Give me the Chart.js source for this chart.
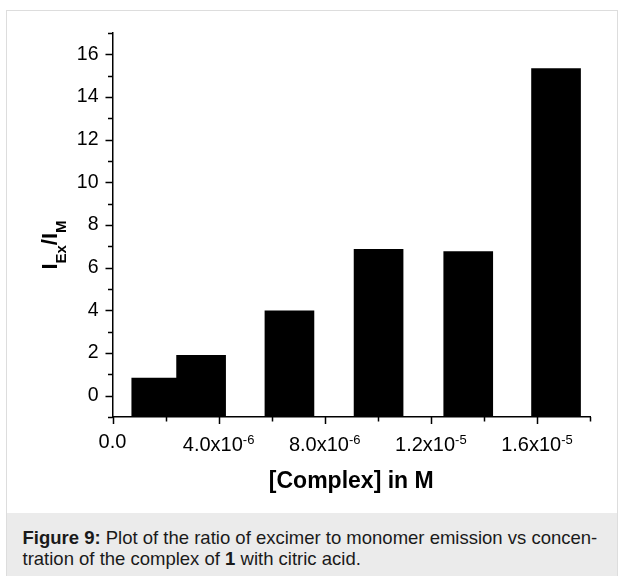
<!DOCTYPE html>
<html>
<head>
<meta charset="utf-8">
<title>Excimer / monomer ratio</title>
<script src="https://cdn.jsdelivr.net/npm/chart.js@4.4.0/dist/chart.umd.min.js"></script>
<style>
  body {
    margin: 0;
    width: 619px;
    height: 576px;
    overflow: hidden;
    position: relative;
    background: #fff;
    font-family: 'Liberation Sans', Arial, sans-serif;
  }
  #frame {
    position: absolute;
    left: 6px;
    top: 10px;
    width: 612px;
    height: 600px;
    box-sizing: border-box;
    border: 1.5px solid #dddddd;
  }
  #chart {
    position: absolute;
    left: 0;
    top: 0;
  }
  #caption {
    position: absolute;
    left: 7px;
    top: 513px;
    width: 610px;
    height: 63px;
    box-sizing: border-box;
    padding: 14px 0 0 15.5px;
    background: #ebebeb;
    color: #1a1a1a;
    font-size: 18.5px;
    line-height: 21px;
    white-space: nowrap;
  }
</style>
</head>
<body>
<div id="frame"></div>
<canvas id="chart" width="619" height="513"></canvas>
<div id="caption"><b>Figure 9:</b> Plot of the ratio of excimer to monomer emission vs concen-<br>tration of the complex of <b>1</b> with citric acid.</div>

<script>
// complex concentration (M) and excimer/monomer intensity ratio
const concentrations = [1.65e-6, 3.34e-6, 6.67e-6, 1.003e-5, 1.341e-5, 1.672e-5];
const ratios = [0.83, 1.89, 3.98, 6.86, 6.75, 15.33];

// x tick labels, drawn as mantissa x 10^exponent
const xTickValues = [0, 4e-6, 8e-6, 1.2e-5, 1.6e-5];
const xTickMantissas = ['0.0', '4.0', '8.0', '1.2', '1.6'];
const xTickExponents = ['', '-6', '-6', '-5', '-5'];

const FONT = "'Liberation Sans', Arial, sans-serif";
Chart.defaults.font.family = FONT;
Chart.defaults.color = '#000';

// tick marks (major + minor), superscript x labels and the I_Ex/I_M title
const axisDecor = {
  id: 'axisDecor',
  afterDraw(chart) {
    const ctx = chart.ctx;
    const xs = chart.scales.x;
    const ys = chart.scales.y;
    const area = chart.chartArea;

    ctx.save();
    ctx.strokeStyle = '#000';
    ctx.lineWidth = 1.5;
    ctx.beginPath();
    for (let i = 0; i <= 9; i++) {
      const v = i * 2e-6;
      const px = Math.round(xs.getPixelForValue(v)) + 0.5;
      const len = i % 2 === 0 ? 7 : 4.5;
      ctx.moveTo(px, area.bottom);
      ctx.lineTo(px, area.bottom + len);
    }
    for (let v = ys.min; v <= ys.max; v++) {
      const py = Math.round(ys.getPixelForValue(v)) + 0.5;
      const len = v % 2 === 0 ? 7 : 4.5;
      ctx.moveTo(area.left, py);
      ctx.lineTo(area.left - len, py);
    }
    ctx.stroke();

    // x labels with raised exponents
    ctx.fillStyle = '#000';
    ctx.textAlign = 'left';
    ctx.textBaseline = 'alphabetic';
    const mainFont = '20px ' + FONT;
    const supFont = '13px ' + FONT;
    xTickValues.forEach((v, i) => {
      const main = xTickExponents[i] ? xTickMantissas[i] + 'x10' : xTickMantissas[i];
      const sup = xTickExponents[i];
      ctx.font = mainFont;
      const w1 = ctx.measureText(main).width;
      ctx.font = supFont;
      const w2 = sup ? ctx.measureText(sup).width : 0;
      const start = xs.getPixelForValue(v) - (w1 + w2) / 2;
      const base = sup ? 451 : 447.5;
      ctx.font = mainFont;
      ctx.fillText(main, start, base);
      if (sup) {
        ctx.font = supFont;
        ctx.fillText(sup, start + w1, base - 7.5);
      }
    });

    // rotated y title with subscripts
    const parts = [
      { text: 'I', font: 'bold 22px ' + FONT, dy: 0 },
      { text: 'Ex', font: 'bold 15px ' + FONT, dy: 9 },
      { text: '/I', font: 'bold 22px ' + FONT, dy: 0 },
      { text: 'M', font: 'bold 15px ' + FONT, dy: 9 },
    ];
    let total = 0;
    parts.forEach(p => {
      ctx.font = p.font;
      p.w = ctx.measureText(p.text).width;
      total += p.w;
    });
    ctx.translate(57, 245);
    ctx.rotate(-Math.PI / 2);
    let x = -total / 2;
    parts.forEach(p => {
      ctx.font = p.font;
      ctx.fillText(p.text, x, p.dy);
      x += p.w;
    });
    ctx.restore();
  },
};

new Chart(document.getElementById('chart'), {
  type: 'bar',
  data: {
    datasets: [
      {
        data: concentrations.map((c, i) => ({ x: c, y: ratios[i] })),
        backgroundColor: '#000',
        borderWidth: 0,
        base: -1,
        barThickness: 49,
      },
    ],
  },
  options: {
    responsive: false,
    animation: false,
    layout: { padding: { top: 33, right: 29, left: 0, bottom: 0 } },
    plugins: {
      legend: { display: false },
      tooltip: { enabled: false },
    },
    scales: {
      x: {
        type: 'linear',
        min: 0,
        max: 1.8e-5,
        offset: false,
        grid: { display: false, drawTicks: false },
        border: { display: true, color: '#000', width: 1.5 },
        ticks: { display: false, stepSize: 2e-6 },
        title: {
          display: true,
          text: '[Complex] in M',
          color: '#000',
          font: { size: 23, weight: 'bold' },
          padding: { top: 0, bottom: 18 },
        },
        afterFit(scale) {
          scale.height = 96;
        },
      },
      y: {
        min: -1,
        max: 17,
        grid: { display: false, drawTicks: false },
        border: { display: true, color: '#000', width: 1.5 },
        ticks: {
          stepSize: 1,
          autoSkip: false,
          padding: 14,
          color: '#000',
          font: { size: 19.5 },
          callback: (v) => (v % 2 === 0 ? v : ''),
        },
        afterFit(scale) {
          scale.width = 112.5;
        },
      },
    },
  },
  plugins: [axisDecor],
});
</script>
</body>
</html>
